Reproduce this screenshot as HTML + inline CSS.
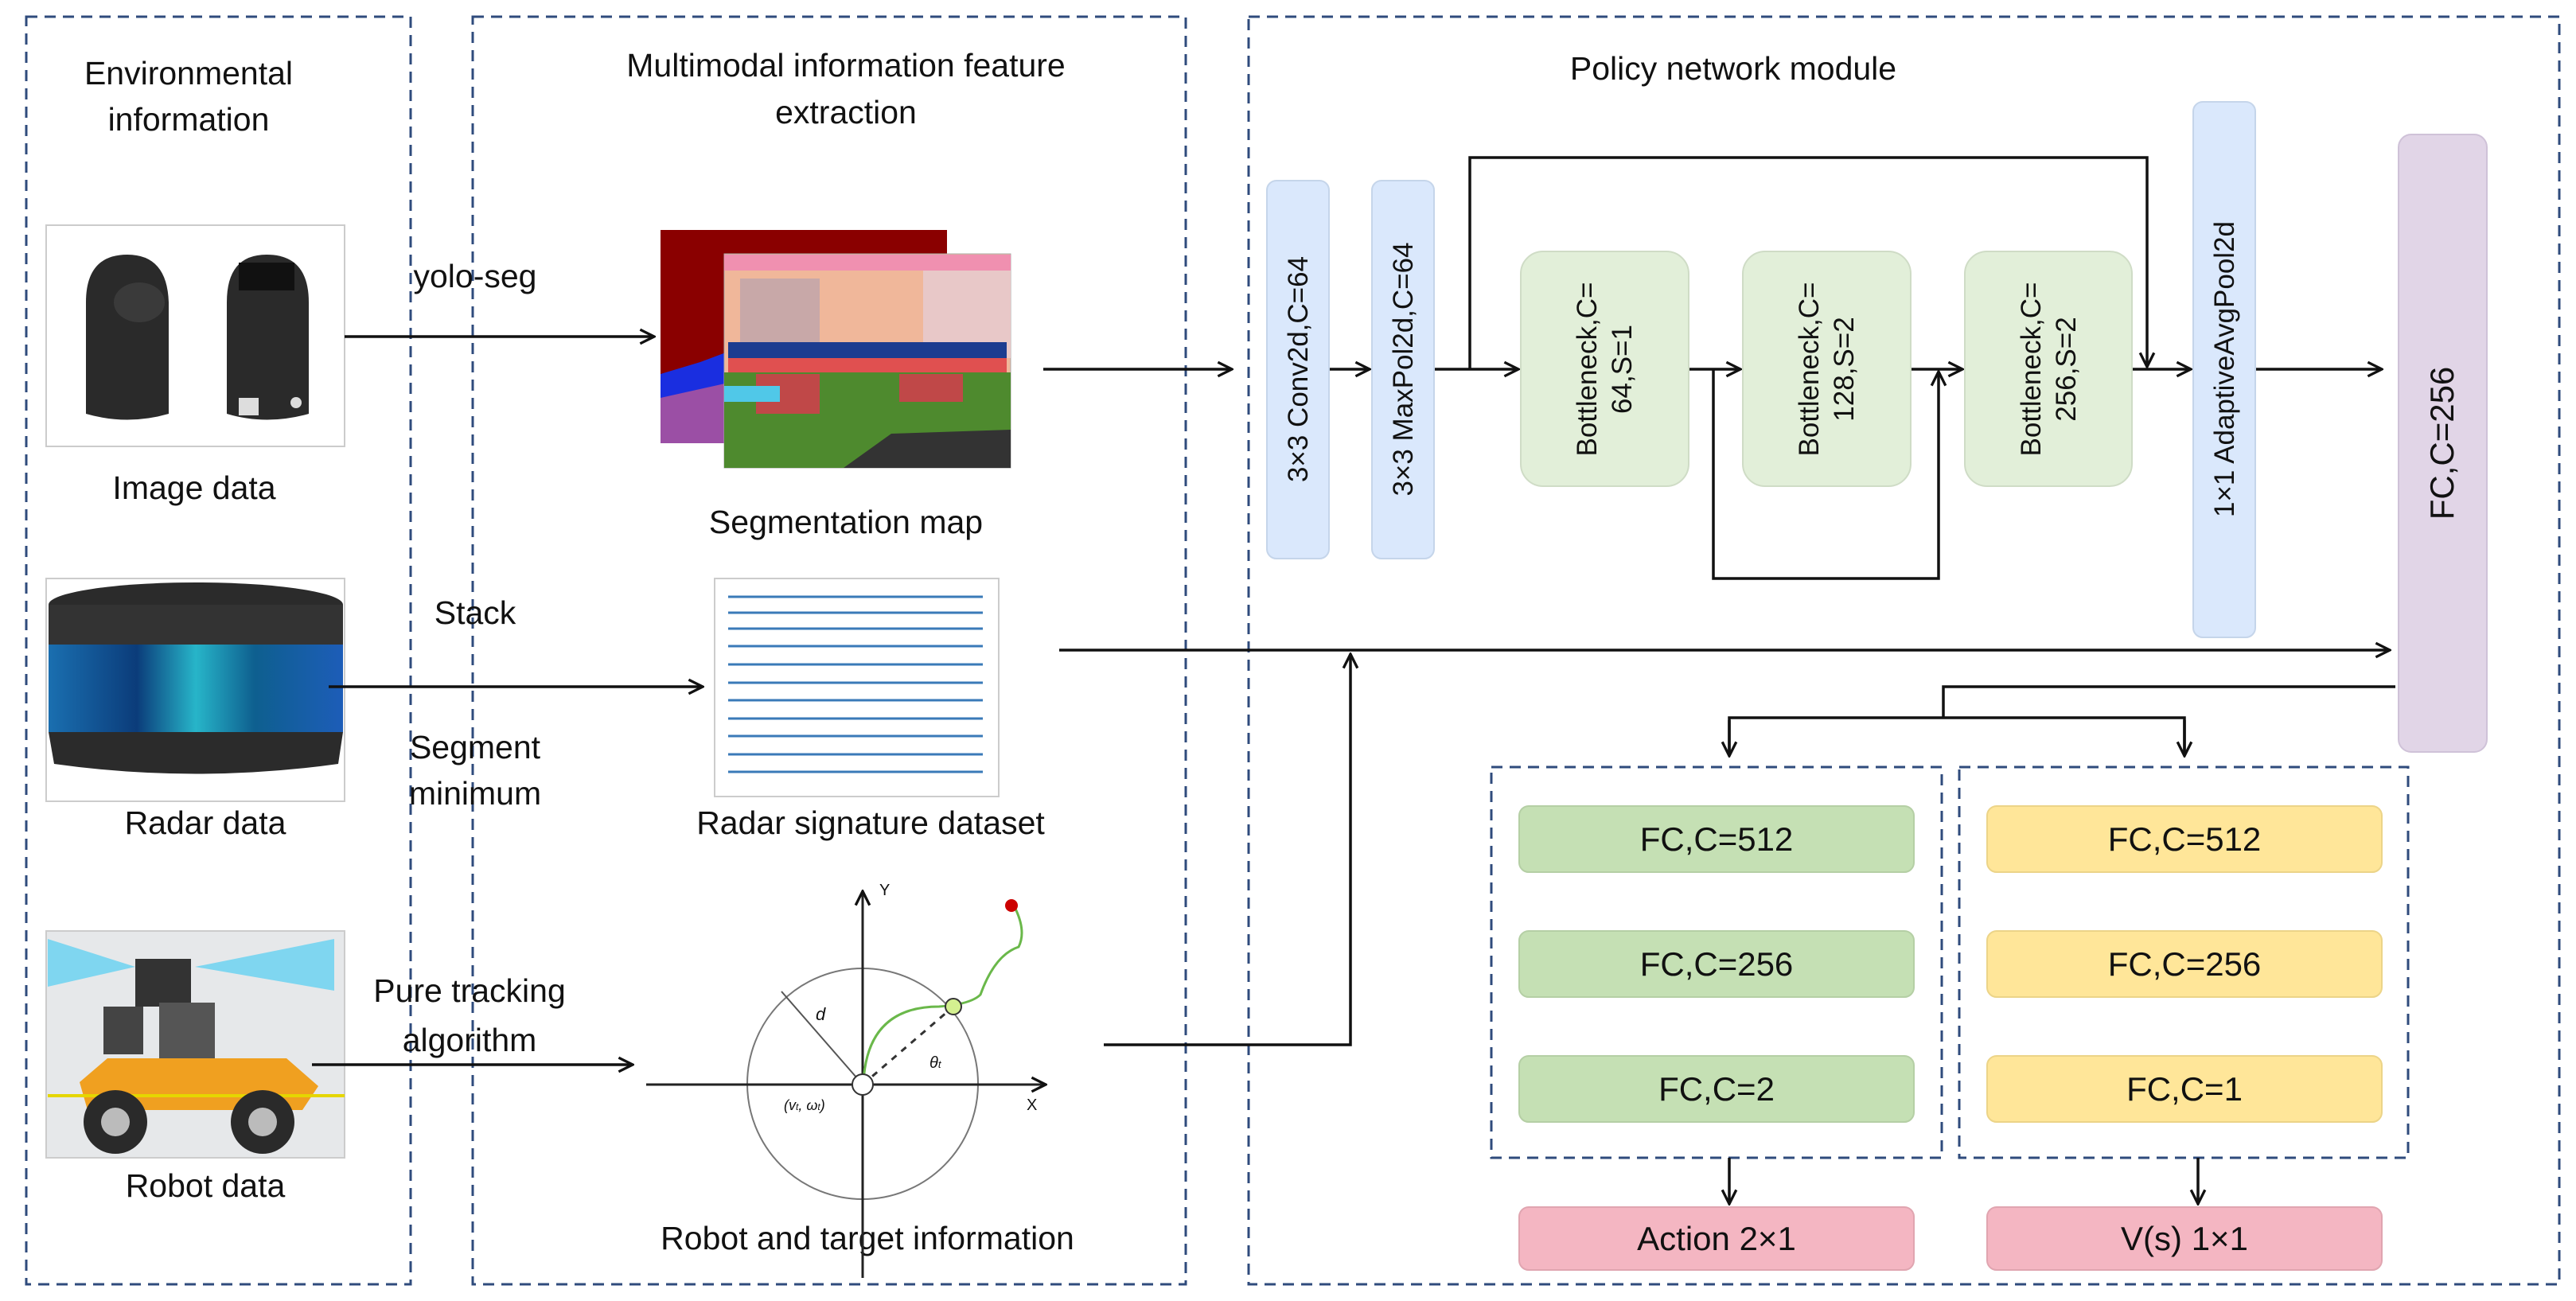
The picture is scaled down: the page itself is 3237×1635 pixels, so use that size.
<!DOCTYPE html>
<html><head><meta charset="utf-8"><style>
html,body{margin:0;padding:0;background:#fff}
svg{display:block}
text{font-family:"Liberation Sans",sans-serif;fill:#111}
.n{font-family:"Liberation Sans Narrow","Liberation Sans",sans-serif}
</style></head><body>
<svg width="3237" height="1635" viewBox="0 0 3237 1635" xmlns="http://www.w3.org/2000/svg">
<defs>
<marker id="a" viewBox="0 0 20 20" refX="18" refY="10" markerWidth="22" markerHeight="22" markerUnits="userSpaceOnUse" orient="auto"><path d="M2,2 L18,10 L2,18" fill="none" stroke="#111" stroke-width="3"/></marker>
<linearGradient id="lid" x1="0" y1="0" x2="1" y2="0"><stop offset="0" stop-color="#1a6fb0"/><stop offset=".3" stop-color="#0b3c7a"/><stop offset=".5" stop-color="#27b5c9"/><stop offset=".7" stop-color="#0e5f8f"/><stop offset="1" stop-color="#1d5db8"/></linearGradient>
</defs>
<g fill="none" stroke="#2f4b7c" stroke-width="3" stroke-dasharray="14,9">
<rect x="33" y="21" width="483" height="1593"/>
<rect x="594" y="21" width="896" height="1593"/>
<rect x="1569" y="21" width="1647" height="1593"/>
<rect x="1874" y="964" width="566" height="491"/>
<rect x="2462" y="964" width="564" height="491"/>
</g>
<g font-size="41" text-anchor="middle">
<text x="237" y="106">Environmental</text><text x="237" y="164">information</text>
<text x="1063" y="96">Multimodal information feature</text><text x="1063" y="155">extraction</text>
<text x="2178" y="100">Policy network module</text>
<text x="244" y="627">Image data</text>
<text x="258" y="1048">Radar data</text>
<text x="258" y="1504">Robot data</text>
<text x="1063" y="670">Segmentation map</text>
<text x="1094" y="1048">Radar signature dataset</text>
<text x="1090" y="1570">Robot and target information</text>
<text x="597" y="361">yolo-seg</text>
<text x="597" y="784">Stack</text>
<text x="597" y="953">Segment</text><text x="597" y="1011">minimum</text>
<text x="590" y="1259">Pure tracking</text><text x="590" y="1321">algorithm</text>
</g>
<!-- camera image -->
<rect x="58" y="283" width="375" height="278" fill="#fff" stroke="#ccc" stroke-width="2"/>
<path d="M108,520 L108,380 Q108,320 160,320 Q210,320 212,380 L212,520 Q160,535 108,520Z" fill="#2a2a2a"/>
<ellipse cx="175" cy="380" rx="32" ry="25" fill="#3a3a3a"/>
<path d="M285,520 L285,380 Q285,320 335,320 Q388,320 388,380 L388,520 Q335,535 285,520Z" fill="#2a2a2a"/>
<rect x="300" y="330" width="70" height="35" fill="#111"/>
<rect x="300" y="500" width="25" height="22" fill="#ddd"/>
<circle cx="372" cy="506" r="7" fill="#ddd"/>
<!-- radar image -->
<rect x="58" y="727" width="375" height="280" fill="#fff" stroke="#ccc" stroke-width="2"/>
<ellipse cx="246" cy="760" rx="185" ry="28" fill="#2b2b2b"/>
<rect x="61" y="760" width="370" height="55" fill="#333"/>
<rect x="61" y="810" width="370" height="110" fill="url(#lid)"/>
<path d="M61,920 L431,920 L425,960 Q246,985 68,960Z" fill="#2b2b2b"/>
<!-- robot image -->
<rect x="58" y="1170" width="375" height="285" fill="#e6e8ea" stroke="#ccc" stroke-width="2"/>
<path d="M60,1180 L170,1215 L60,1240Z M245,1215 L420,1180 L420,1245Z" fill="#7fd6f0"/>
<rect x="170" y="1205" width="70" height="60" fill="#333"/>
<rect x="130" y="1265" width="50" height="60" fill="#444"/>
<rect x="200" y="1260" width="70" height="80" fill="#555"/>
<path d="M100,1360 L135,1330 L360,1330 L400,1365 L380,1395 L110,1395Z" fill="#f0a020"/>
<rect x="60" y="1375" width="373" height="4" fill="#e5d600"/>
<circle cx="145" cy="1410" r="40" fill="#2a2a2a"/><circle cx="330" cy="1410" r="40" fill="#2a2a2a"/>
<circle cx="145" cy="1410" r="18" fill="#bbb"/><circle cx="330" cy="1410" r="18" fill="#bbb"/>
<!-- seg map -->
<rect x="830" y="289" width="360" height="268" fill="#8a0000"/>
<path d="M830,470 L880,455 L920,440 L920,557 L830,557Z" fill="#1a2ee0"/>
<path d="M830,500 L920,480 L920,557 L830,557Z" fill="#9b4fa5"/>
<rect x="910" y="319" width="360" height="269" fill="#f0b79a" stroke="#aaa"/>
<rect x="910" y="320" width="360" height="20" fill="#f090b0"/>
<rect x="930" y="350" width="100" height="110" fill="#c8a8a8"/>
<rect x="1160" y="340" width="110" height="110" fill="#e8c8c8"/>
<rect x="915" y="430" width="350" height="22" fill="#1c3c90"/>
<rect x="915" y="450" width="350" height="18" fill="#e05050"/>
<rect x="910" y="468" width="360" height="120" fill="#4e8a2e"/>
<rect x="950" y="470" width="80" height="50" fill="#c04848"/>
<rect x="1130" y="470" width="80" height="35" fill="#c04848"/>
<rect x="910" y="485" width="70" height="20" fill="#50c8e8"/>
<path d="M1060,588 L1120,545 L1270,540 L1270,588Z" fill="#333"/>
<!-- radar signature -->
<rect x="898" y="727" width="357" height="274" fill="#fff" stroke="#ccc" stroke-width="2"/>
<g stroke="#3a7ab8" stroke-width="3" fill="none">
<path d="M915,750 h320"/><path d="M915,770 h320"/><path d="M915,790 h320"/><path d="M915,812 h320"/><path d="M915,835 h320"/><path d="M915,858 h320"/><path d="M915,880 h320"/><path d="M915,903 h320"/><path d="M915,925 h320"/><path d="M915,948 h320"/><path d="M915,970 h320"/>
</g>
<!-- robot target diagram -->
<circle cx="1084" cy="1362" r="145" fill="none" stroke="#777" stroke-width="2"/>
<line x1="1084" y1="1606" x2="1084" y2="1120" stroke="#222" stroke-width="3" marker-end="url(#a)"/>
<line x1="812" y1="1363" x2="1314" y2="1363" stroke="#222" stroke-width="3" marker-end="url(#a)"/>
<text x="1105" y="1125" font-size="20" font-family="Liberation Serif">Y</text>
<text x="1290" y="1395" font-size="20" font-family="Liberation Serif">X</text>
<line x1="1084" y1="1363" x2="982" y2="1246" stroke="#555" stroke-width="2"/>
<text x="1025" y="1282" font-size="22" font-style="italic" font-family="Liberation Serif">d</text>
<line x1="1084" y1="1363" x2="1198" y2="1265" stroke="#333" stroke-width="3" stroke-dasharray="8,8"/>
<path d="M1085,1360 Q1090,1265 1180,1265 Q1220,1262 1232,1250 Q1250,1200 1280,1190 Q1290,1170 1275,1140" fill="none" stroke="#6ab84a" stroke-width="3"/>
<circle cx="1084" cy="1363" r="13" fill="#fff" stroke="#333" stroke-width="2"/>
<circle cx="1198" cy="1265" r="10" fill="#d4f090" stroke="#333" stroke-width="2"/>
<circle cx="1271" cy="1138" r="8" fill="#c00"/>
<text x="1168" y="1342" font-size="20" font-style="italic" font-family="Liberation Serif">θ<tspan font-size="13">t</tspan></text>
<text x="985" y="1395" font-size="18" font-style="italic" font-family="Liberation Serif">(v<tspan font-size="12">t</tspan>, ω<tspan font-size="12">t</tspan>)</text>
<!-- connectors -->
<g stroke="#111" stroke-width="3.5" fill="none">
<line x1="433" y1="423" x2="822" y2="423" marker-end="url(#a)"/>
<line x1="413" y1="863" x2="883" y2="863" marker-end="url(#a)"/>
<line x1="392" y1="1338" x2="795" y2="1338" marker-end="url(#a)"/>
<line x1="1311" y1="464" x2="1548" y2="464" marker-end="url(#a)"/>
<line x1="1331" y1="817" x2="3003" y2="817" marker-end="url(#a)"/>
<path d="M1387,1313 L1697,1313 L1697,822" marker-end="url(#a)"/>
<line x1="1670" y1="464" x2="1721" y2="464" marker-end="url(#a)"/>
<line x1="1802" y1="464" x2="1908" y2="464" marker-end="url(#a)"/>
<line x1="2122" y1="464" x2="2187" y2="464" marker-end="url(#a)"/>
<line x1="2401" y1="464" x2="2466" y2="464" marker-end="url(#a)"/>
<line x1="2679" y1="464" x2="2753" y2="464" marker-end="url(#a)"/>
<line x1="2834" y1="464" x2="2993" y2="464" marker-end="url(#a)"/>
<path d="M1847,464 L1847,198 L2698,198 L2698,461" marker-end="url(#a)"/>
<path d="M2153,464 L2153,727 L2436,727 L2436,467" marker-end="url(#a)"/>
<path d="M3010,863 L2442,863 L2442,902"/>
<path d="M2173,949 L2173,902 L2745,902 L2745,949"/>
<line x1="2173" y1="905" x2="2173" y2="950" marker-end="url(#a)"/>
<line x1="2745" y1="905" x2="2745" y2="950" marker-end="url(#a)"/>
<line x1="2173" y1="1455" x2="2173" y2="1513" marker-end="url(#a)"/>
<line x1="2762" y1="1455" x2="2762" y2="1513" marker-end="url(#a)"/>
</g>
<!-- network blocks -->
<g stroke-width="2">
<rect x="1592" y="227" width="78" height="475" rx="12" fill="#dae8fc" stroke="#c5d5ea"/>
<rect x="1724" y="227" width="78" height="475" rx="12" fill="#dae8fc" stroke="#c5d5ea"/>
<rect x="2756" y="128" width="78" height="673" rx="12" fill="#dae8fc" stroke="#c5d5ea"/>
<rect x="3014" y="169" width="111" height="776" rx="16" fill="#e1d5e7" stroke="#cfc2d8"/>
<rect x="1911" y="316" width="211" height="295" rx="28" fill="#e2efd9" stroke="#cfdcc6"/>
<rect x="2190" y="316" width="211" height="295" rx="28" fill="#e2efd9" stroke="#cfdcc6"/>
<rect x="2469" y="316" width="210" height="295" rx="28" fill="#e2efd9" stroke="#cfdcc6"/>
<rect x="1909" y="1013" width="496" height="83" rx="12" fill="#c5e0b4" stroke="#b5cfa5"/>
<rect x="1909" y="1170" width="496" height="83" rx="12" fill="#c5e0b4" stroke="#b5cfa5"/>
<rect x="1909" y="1327" width="496" height="83" rx="12" fill="#c5e0b4" stroke="#b5cfa5"/>
<rect x="2497" y="1013" width="496" height="83" rx="12" fill="#ffe699" stroke="#ecd488"/>
<rect x="2497" y="1170" width="496" height="83" rx="12" fill="#ffe699" stroke="#ecd488"/>
<rect x="2497" y="1327" width="496" height="83" rx="12" fill="#ffe699" stroke="#ecd488"/>
<rect x="1909" y="1517" width="496" height="79" rx="12" fill="#f4b6c2" stroke="#e0a5b0"/>
<rect x="2497" y="1517" width="496" height="79" rx="12" fill="#f4b6c2" stroke="#e0a5b0"/>
</g>
<g font-size="35" text-anchor="middle">
<text transform="translate(1643,464) rotate(-90)">3×3 Conv2d,C=64</text>
<text transform="translate(1775,464) rotate(-90)">3×3 MaxPol2d,C=64</text>
<text transform="translate(2807,464) rotate(-90)">1×1 AdaptiveAvgPool2d</text>
<text transform="translate(3083,557) rotate(-90)" font-size="42">FC,C=256</text>
<text transform="translate(2006,464) rotate(-90)">Bottleneck,C=</text>
<text transform="translate(2050,464) rotate(-90)">64,S=1</text>
<text transform="translate(2285,464) rotate(-90)">Bottleneck,C=</text>
<text transform="translate(2329,464) rotate(-90)">128,S=2</text>
<text transform="translate(2564,464) rotate(-90)">Bottleneck,C=</text>
<text transform="translate(2608,464) rotate(-90)">256,S=2</text>
</g>
<g font-size="42" text-anchor="middle" class="n">
<text class="n" x="2157" y="1069">FC,C=512</text>
<text class="n" x="2157" y="1226">FC,C=256</text>
<text class="n" x="2157" y="1383">FC,C=2</text>
<text class="n" x="2745" y="1069">FC,C=512</text>
<text class="n" x="2745" y="1226">FC,C=256</text>
<text class="n" x="2745" y="1383">FC,C=1</text>
<text class="n" x="2157" y="1571">Action 2×1</text>
<text class="n" x="2745" y="1571">V(s)  1×1</text>
</g>
</svg>
</body></html>
